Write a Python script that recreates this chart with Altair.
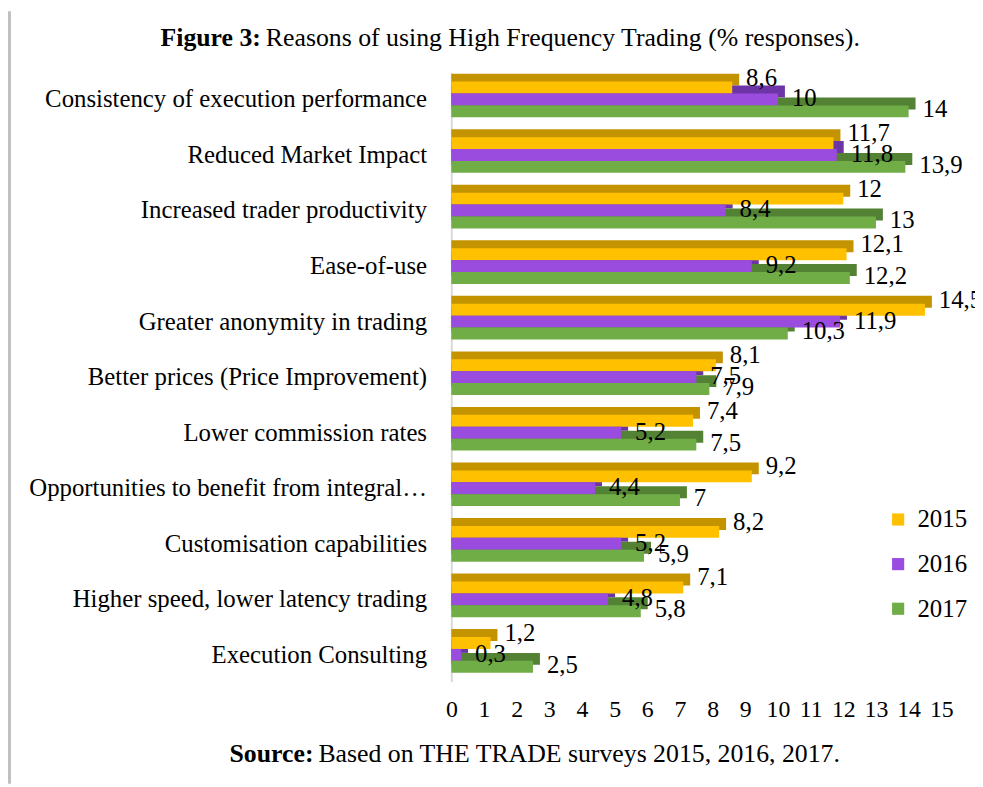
import altair as alt
import pandas as pd

# ---------------- data ----------------
categories = [
    "Consistency of execution performance",
    "Reduced Market Impact",
    "Increased trader productivity",
    "Ease-of-use",
    "Greater anonymity in trading",
    "Better prices (Price Improvement)",
    "Lower commission rates",
    "Opportunities to benefit from integral…",
    "Customisation capabilities",
    "Higher speed, lower latency trading",
    "Execution Consulting",
]
years = ["2015", "2016", "2017"]
v2015 = [8.6, 11.7, 12, 12.1, 14.5, 8.1, 7.4, 9.2, 8.2, 7.1, 1.2]
v2016 = [10, 11.8, 8.4, 9.2, 11.9, 7.5, 5.2, 4.4, 5.2, 4.8, 0.3]
v2017 = [14, 13.9, 13, 12.2, 10.3, 7.9, 7.5, 7, 5.9, 5.8, 2.5]
x_ticks = list(range(0, 16))

title_bold = ["Figure 3:"]
title_rest = ["Reasons of using High Frequency Trading (% responses)."]
source_bold = ["Source:"]
source_rest = ["Based  on THE TRADE surveys 2015, 2016, 2017."]

front_colors = ["#FFC000", "#9A4CDE", "#70AD47"]
side_colors = ["#C49300", "#6C34A6", "#548235"]

rows = []
for yr, vals in zip(years, [v2015, v2016, v2017]):
    for c, v in zip(categories, vals):
        rows.append({"category": c, "year": yr, "value": v,
                     "label": f"{v:g}".replace(".", ",")})
df = pd.DataFrame(rows)

FONT = "Liberation Serif"
W, H = 494, 614
BAND = 36
DEPTH_X, DEPTH_Y = 7, 8

y_enc = alt.Y(
    "category:N", sort=categories,
    scale=alt.Scale(paddingInner=0.3571, paddingOuter=0.1607),
    axis=alt.Axis(title=None, labelFont=FONT, labelFontSize=25, labelColor="black",
                  labelPadding=25, ticks=False, domain=True, domainColor="#d9d9d9",
                  domainWidth=2, labelLimit=600, grid=False),
)
x_enc = alt.X(
    "value:Q",
    scale=alt.Scale(domain=[0, 15], nice=False, zero=True),
    axis=alt.Axis(title=None, values=x_ticks, format="d", labelFont=FONT,
                  labelFontSize=24, labelColor="black", labelPadding=16,
                  labelOverlap=False, labelFlush=False, labelBound=False,
                  ticks=False, domain=False, grid=False),
)

base = alt.Chart(df)

back = base.mark_bar(xOffset=DEPTH_X, x2Offset=0).encode(
    x=x_enc, x2=alt.datum(0), y=y_enc,
    yOffset=alt.YOffset("year:N", scale=alt.Scale(domain=years, range=[-DEPTH_Y, BAND - DEPTH_Y])),
    color=alt.Color("year:N", scale=alt.Scale(domain=years, range=side_colors), legend=None),
)

front = base.mark_bar().encode(
    x=x_enc, y=y_enc,
    yOffset=alt.YOffset("year:N", scale=alt.Scale(domain=years, range=[0, BAND])),
    color=alt.Color("year:N", scale=alt.Scale(domain=years, range=front_colors),
                    legend=alt.Legend(title=None)),
)

label_dy = {"2015": -10, "2016": -1, "2017": -2}
texts = []
for yr in years:
    texts.append(
        base.transform_filter(alt.datum.year == yr)
        .mark_text(align="left", baseline="middle", dx=14, dy=label_dy[yr],
                   font=FONT, fontSize=25, color="black")
        .encode(
            x=x_enc, y=y_enc,
            yOffset=alt.YOffset("year:N", scale=alt.Scale(domain=years, range=[0, BAND])),
            text="label:N",
        )
    )

def text_layer(values, x, y, align, bold):
    return alt.Chart(pd.DataFrame({"t": values})).mark_text(
        align=align, baseline="middle", font=FONT, fontSize=26,
        fontWeight="bold" if bold else "normal", color="black"
    ).encode(x=alt.value(x), y=alt.value(y), text="t:N")

t1 = text_layer(title_bold, -192, -35, "right", True)
t2 = text_layer(title_rest, -187, -35, "left", False)
s1 = text_layer(source_bold, -139, 687, "right", True)
s2 = text_layer(source_rest, -134, 687, "left", False)

border = alt.Chart(pd.DataFrame({"a": [0]})).mark_rule(color="#c0c0c0", strokeWidth=3).encode(
    x=alt.value(-445.5), y=alt.value(-62), y2=alt.value(717)
)

chart = alt.layer(back, front, *texts, t1, t2, s1, s2, border).resolve_scale(
    color="independent", yOffset="independent"
).properties(
    width=W, height=H,
    autosize=alt.AutoSizeParams(type="none"),
    padding={"left": 447, "top": 62, "right": 34, "bottom": 103},
    background="white",
).configure_view(stroke=None).configure_legend(
    orient="none", legendX=438, legendY=438, labelFont=FONT, labelFontSize=25,
    labelColor="black", symbolType="square", symbolSize=150, rowPadding=19,
    padding=0, labelOffset=7, symbolStrokeWidth=0,
)

chart.save("out.html", embed_options={"renderer": "svg", "actions": False})
